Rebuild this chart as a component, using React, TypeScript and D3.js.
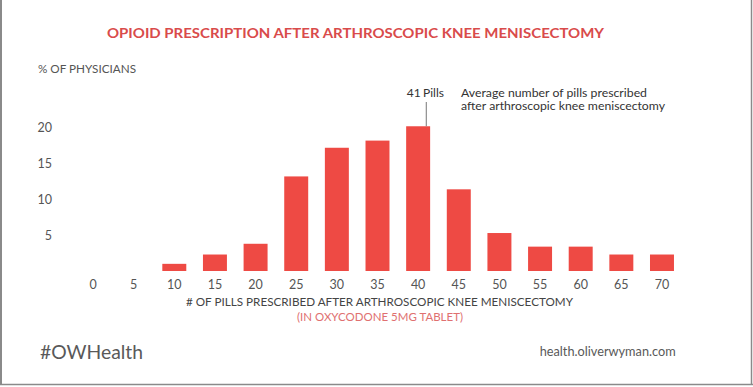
import React from 'react';
import * as d3 from 'd3';

// pills prescribed (x categories) and % of physicians
const pillCounts = [0, 5, 10, 15, 20, 25, 30, 35, 40, 45, 50, 55, 60, 65, 70];
const physicianPct = [0, 0, 1.0, 2.3, 3.8, 13.2, 17.2, 18.2, 20.2, 11.4, 5.3, 3.4, 3.4, 2.3, 2.3];
const yTicks = [5, 10, 15, 20];
const averagePills = 41;

const W = 753,
    H = 387;

const RED = '#ee4a44';
const GREY = '#555';
const FONT = 'Lato, "Open Sans", sans-serif';

function App() {
    // band scale, outer padding = half inner so the centres land on an even step
    const x = d3.scaleBand<number>()
        .domain(pillCounts)
        .range([72.7, 682.3])
        .paddingInner(0.41)
        .paddingOuter(0.205);

    const centre = (d: number) => (x(d) as number) + x.bandwidth() / 2;

    // linear helper for the average-marker between categories
    const xLin = d3.scaleLinear()
        .domain([pillCounts[0], pillCounts[pillCounts.length - 1]])
        .range([centre(pillCounts[0]), centre(pillCounts[pillCounts.length - 1])]);

    const y = d3.scaleLinear()
        .domain([0, 20])
        .range([271, 127.7]);

    const avgX = xLin(averagePills);
    const avgBarTop = y(physicianPct[pillCounts.indexOf(40)]);

    return (
        <svg width={W} height={H} style={{ position: 'absolute', left: 0, top: 0, background: '#fff' }} fontFamily={FONT}>
            <rect x={0} y={0} width={W} height={H} fill="#fff" />
            {/* frame */}
            <line x1={1} y1={0} x2={1} y2={385} stroke="#8a8a8a" strokeWidth={2} />
            <line x1={751.5} y1={0} x2={751.5} y2={385} stroke="#8a8a8a" strokeWidth={1.5} />
            <line x1={0} y1={384.5} x2={W} y2={384.5} stroke="#8a8a8a" strokeWidth={1.5} />

            <text x={107} y={38.3} fill="#d94b4b" fontSize={14} fontWeight={700} textLength={497} lengthAdjust="spacingAndGlyphs">
                OPIOID PRESCRIPTION AFTER ARTHROSCOPIC KNEE MENISCECTOMY
            </text>

            <text x={38} y={73.3} fill={GREY} fontSize={11.5} textLength={98} lengthAdjust="spacingAndGlyphs">
                % OF PHYSICIANS
            </text>

            {yTicks.map((t) => (
                <text key={t} x={52} y={y(t)} dy="0.36em" textAnchor="end" fill={GREY} fontSize={12.5}>
                    {t}
                </text>
            ))}

            {pillCounts.map((d, i) => physicianPct[i] > 0 && (
                <rect
                    key={d}
                    x={x(d)}
                    y={y(physicianPct[i])}
                    width={x.bandwidth()}
                    height={y(0) - y(physicianPct[i])}
                    fill={RED}
                />
            ))}

            {pillCounts.map((d) => (
                <text key={'l' + d} x={centre(d)} y={289.3} textAnchor="middle" fill={GREY} fontSize={12.5}>
                    {d}
                </text>
            ))}

            {/* average marker */}
            <line x1={avgX} y1={102} x2={avgX} y2={avgBarTop} stroke="#777" strokeWidth={1} />
            <text x={406.7} y={96.5} fill="#333" fontSize={12}>41</text>
            <text x={423} y={96.5} fill="#333" fontSize={12}>Pills</text>
            <text x={461} y={96.5} fill="#333" fontSize={12} textLength={186} lengthAdjust="spacingAndGlyphs">
                Average number of pills prescribed
            </text>
            <text x={461} y={110} fill="#333" fontSize={12} textLength={204} lengthAdjust="spacingAndGlyphs">
                after arthroscopic knee meniscectomy
            </text>

            <text x={186} y={305.7} fill="#444" fontSize={11.5} textLength={387} lengthAdjust="spacingAndGlyphs">
                # OF PILLS PRESCRIBED AFTER ARTHROSCOPIC KNEE MENISCECTOMY
            </text>
            <text x={297} y={321} fill="#e07070" fontSize={11.5} textLength={166} lengthAdjust="spacingAndGlyphs">
                (IN OXYCODONE 5MG TABLET)
            </text>

            <text x={40} y={359} fill="#595959" fontSize={20} textLength={103} lengthAdjust="spacingAndGlyphs">
                #OWHealth
            </text>
            <text x={675.7} y={356.3} textAnchor="end" fill="#595959" fontSize={13} textLength={136} lengthAdjust="spacingAndGlyphs">
                health.oliverwyman.com
            </text>
        </svg>
    );
}

export default App;
